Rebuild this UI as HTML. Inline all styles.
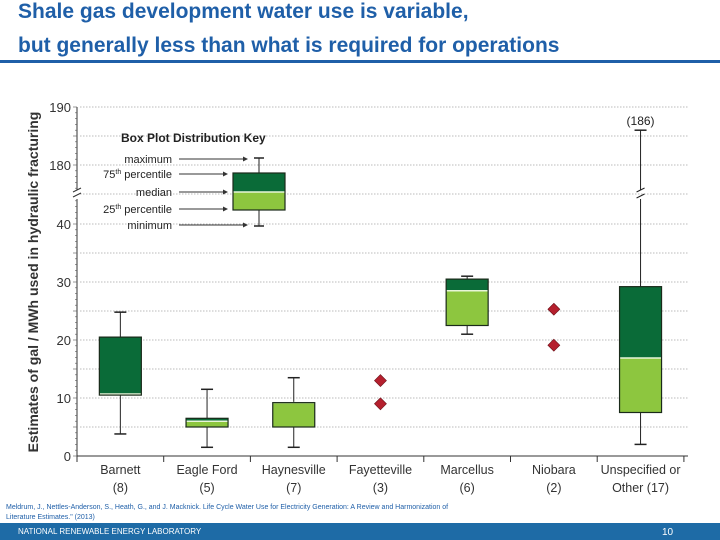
<!DOCTYPE html>
<html><head><meta charset="utf-8"><style>
body{margin:0;width:720px;height:540px;background:#fff;overflow:hidden;font-family:"Liberation Sans",sans-serif;position:relative}
.title{position:absolute;left:18px;color:#1f5fa8;font-size:21px;font-weight:bold;white-space:nowrap}
</style></head><body>
<div class="title" style="top:0px">Shale gas development water use is variable,</div>
<div class="title" style="top:34px">but generally less than what is required for operations</div>
<div style="position:absolute;left:0;top:60px;width:720px;height:3px;background:#1f5fa8"></div>
<svg id="chart" width="720" height="540" style="position:absolute;left:0;top:0" font-family="Liberation Sans, sans-serif"></svg>
<div style="position:absolute;left:6px;top:503px;font-size:7px;color:#1f5fa8;line-height:10px">Meldrum, J., Nettles-Anderson, S., Heath, G., and J. Macknick. Life Cycle Water Use for Electricity Generation: A Review and Harmonization of<br>Literature Estimates." (2013)</div>
<div style="position:absolute;left:0;top:523px;width:720px;height:17px;background:#1e6ba6;color:#fff;font-size:8px">
<span style="position:absolute;left:18px;top:4px">NATIONAL RENEWABLE ENERGY LABORATORY</span>
<span style="position:absolute;left:662px;top:4px;font-size:10px">10</span></div>
<script>
const categories=["Barnett","Eagle Ford","Haynesville","Fayetteville","Marcellus","Niobara","Unspecified or"];
const catLine2=["(8)","(5)","(7)","(3)","(6)","(2)","Other (17)"];
const maxs=[24.8,11.5,13.5,null,31,null,186];
const q3s=[20.5,6.5,9.2,null,30.5,null,29.2];
const medians=[10.7,6,9.2,null,28.5,null,16.9];
const q1s=[10.5,5,5,null,22.5,null,7.5];
const mins=[3.8,1.5,1.5,null,21,null,2];
const outlierCat=[3,3,5,5];
const outlierVal=[13,9,25.3,19.1];
const lowTicks=[0,10,20,30,40];
const highTicks=[180,190];
const gridVals=[0,5,10,15,20,25,30,35,40,175,180,185,190];

const svg=document.getElementById('chart');
const NS="http://www.w3.org/2000/svg";
function mk(t,a,p){const e=document.createElementNS(NS,t);for(const k in a)e.setAttribute(k,a[k]);(p||svg).appendChild(e);return e;}
function y(v){return v>100?165-(v-180)*5.8:456-v*5.8;}
const x0=77,step=86.7;
function cx(i){return x0+step*(i+0.5);}
const dark="#0a6b38",light="#8dc63f";

// grid
gridVals.forEach(v=>{const l=mk('line',{x1:80,x2:688,y1:y(v),y2:y(v),stroke:'#bbb','stroke-dasharray':'1.5,1.5','stroke-width':1});
});
// axes
let ax=mk('path',{d:`M${x0},${y(190)} V190 M${x0},199 V456 H688`,stroke:'#333',fill:'none','stroke-width':1});

let br=mk('path',{d:`M${x0-4},192 l8,-4 M${x0-4},197 l8,-4`,stroke:'#333','stroke-width':1});

for(let v=0;v<=45;v+=1){if(y(v)<200)break;mk('line',{x1:x0-(v%5==0?4:2),x2:x0,y1:y(v),y2:y(v),stroke:'#555','stroke-width':0.6});}
for(let v=176;v<=190;v+=1){mk('line',{x1:x0-(v%5==0?4:2),x2:x0,y1:y(v),y2:y(v),stroke:'#555','stroke-width':0.6});}
lowTicks.concat(highTicks).forEach(v=>{const t=mk('text',{x:x0-6,y:y(v)+5,'text-anchor':'end','font-size':13,fill:'#333'});t.textContent=v;
});
for(let i=0;i<=7;i++)mk('line',{x1:x0+step*i,x2:x0+step*i,y1:456,y2:462,stroke:'#333'});
const yt=mk('text',{x:0,y:0,transform:'translate(38,282) rotate(-90)','text-anchor':'middle','font-size':14,'font-weight':'bold',fill:'#333'});
yt.textContent='Estimates of gal / MWh used in hydraulic fracturing';

categories.forEach((c,i)=>{const t=mk('text',{x:cx(i),y:474,'text-anchor':'middle','font-size':12.5,fill:'#333'});t.textContent=c;

const t2=mk('text',{x:cx(i),y:492,'text-anchor':'middle','font-size':12.5,fill:'#333'});t2.textContent=catLine2[i];
});
// boxes
categories.forEach((c,i)=>{if(maxs[i]==null)return;const g=mk('g',{});

const X=cx(i),w=42;
if(maxs[i]>100){mk('path',{d:`M${X},${y(maxs[i])} V190 M${X},199 V${y(q3s[i])}`,stroke:'#222',fill:'none'},g);
mk('path',{d:`M${X-4},192 l8,-4 M${X-4},198 l8,-4`,stroke:'#222'},g);}
else mk('line',{x1:X,x2:X,y1:y(maxs[i]),y2:y(q3s[i]),stroke:'#222'},g);
mk('line',{x1:X,x2:X,y1:y(q1s[i]),y2:y(mins[i]),stroke:'#222'},g);
mk('line',{x1:X-6,x2:X+6,y1:y(maxs[i]),y2:y(maxs[i]),stroke:'#222','stroke-width':1.5},g);
mk('line',{x1:X-6,x2:X+6,y1:y(mins[i]),y2:y(mins[i]),stroke:'#222','stroke-width':1.5},g);
mk('rect',{x:X-w/2,y:y(q3s[i]),width:w,height:y(medians[i])-y(q3s[i]),fill:dark},g);
mk('rect',{x:X-w/2,y:y(medians[i]),width:w,height:y(q1s[i])-y(medians[i]),fill:light},g);
mk('line',{x1:X-w/2,x2:X+w/2,y1:y(medians[i]),y2:y(medians[i]),stroke:'#e8f5d8','stroke-width':1.5},g);
mk('rect',{x:X-w/2,y:y(q3s[i]),width:w,height:y(q1s[i])-y(q3s[i]),fill:'none',stroke:'#1a2a1a','stroke-width':1.2},g);
if(maxs[i]>100){const t=mk('text',{x:X,y:y(maxs[i])-5,'text-anchor':'middle','font-size':12,fill:'#222'},g);t.textContent='('+maxs[i]+')';}
});
outlierVal.forEach((v,k)=>{const X=cx(outlierCat[k]),Y=y(v);
const d=mk('path',{d:`M${X},${Y-6} L${X+6},${Y} L${X},${Y+6} L${X-6},${Y} Z`,fill:'#b5202e',stroke:'#6a1018','stroke-width':0.6});
});
// key
const kg=mk('g',{});
const kt=mk('text',{x:121,y:142,'font-size':12,'font-weight':'bold',fill:'#222'},kg);kt.textContent='Box Plot Distribution Key';
const kl=[["maximum",159,248],["75th percentile",174,228],["median",192,228],["25th percentile",209,228],["minimum",225,248]];
kl.forEach(r=>{const t=mk('text',{x:172,y:r[1]+4,'text-anchor':'end','font-size':11,fill:'#222'},kg);
if(r[0].includes('th')){t.innerHTML=r[0].slice(0,2)+'<tspan dy="-4" font-size="7">th</tspan><tspan dy="4"> '+r[0].slice(5)+'</tspan>';}else t.textContent=r[0];
mk('line',{x1:179,x2:r[2]-3,y1:r[1],y2:r[1],stroke:'#333'},kg);
mk('path',{d:`M${r[2]},${r[1]} l-5,-2.5 v5 z`,fill:'#333'},kg);});
mk('line',{x1:259,x2:259,y1:158,y2:226,stroke:'#222'},kg);
mk('line',{x1:254,x2:264,y1:158,y2:158,stroke:'#222','stroke-width':1.5},kg);
mk('line',{x1:254,x2:264,y1:226,y2:226,stroke:'#222','stroke-width':1.5},kg);
mk('rect',{x:233,y:173,width:52,height:19,fill:dark},kg);
mk('rect',{x:233,y:192,width:52,height:18,fill:light},kg);
mk('line',{x1:233,x2:285,y1:192,y2:192,stroke:'#e8f5d8','stroke-width':1.5},kg);
mk('rect',{x:233,y:173,width:52,height:37,fill:'none',stroke:'#1a2a1a','stroke-width':1.2},kg);
</script>
</body></html>
